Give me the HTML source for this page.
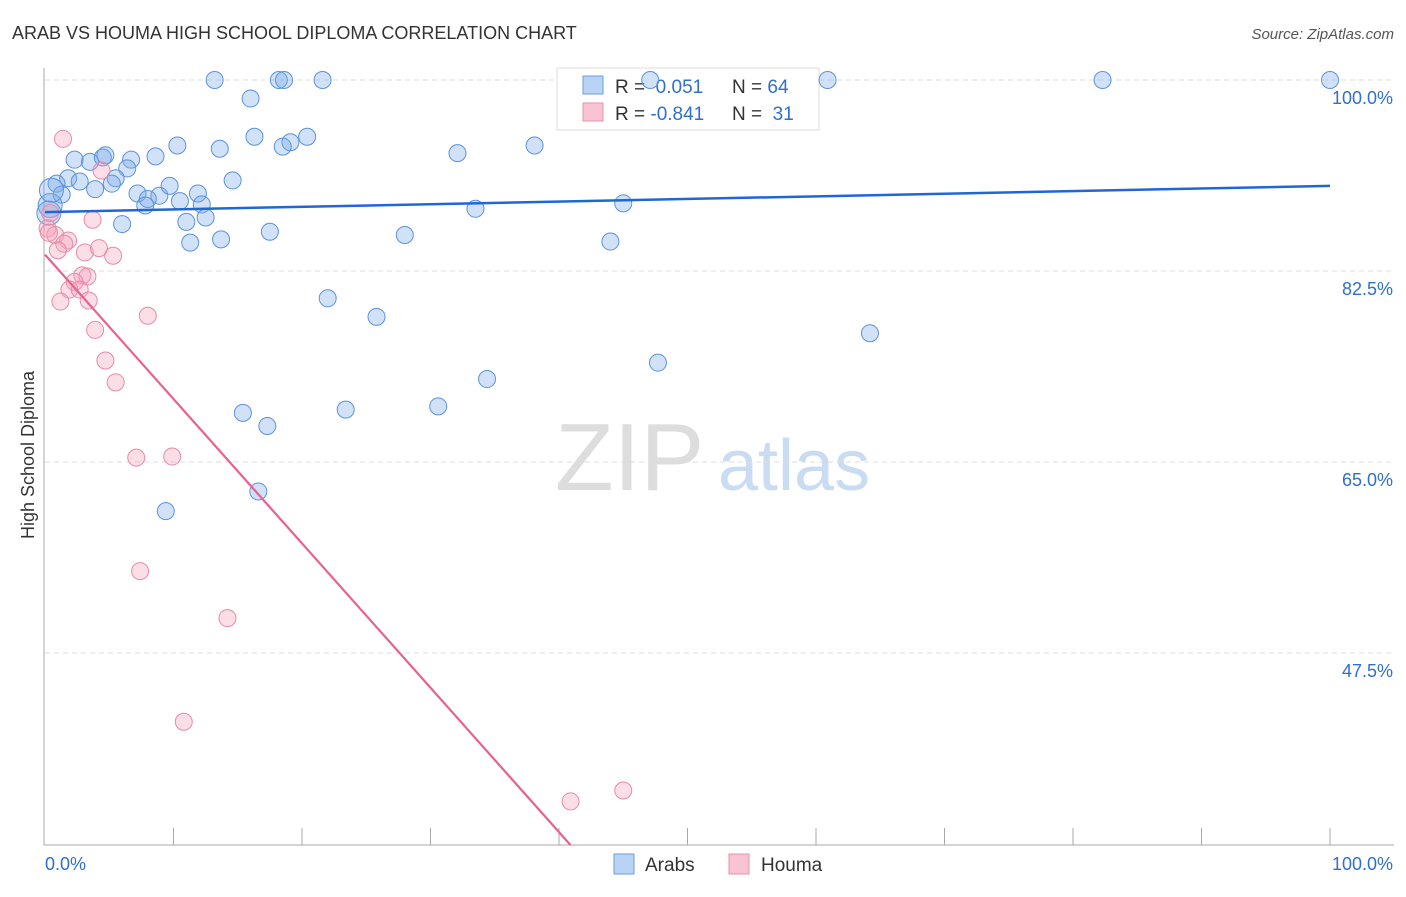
<!DOCTYPE html>
<html><head><meta charset="utf-8"><style>
body{margin:0;background:#fff;font-family:"Liberation Sans",sans-serif;}
svg text{font-family:"Liberation Sans",sans-serif;}
</style></head><body>
<svg id="chart" width="1406" height="892">
<text x="12" y="39" font-size="18" fill="#333">ARAB VS HOUMA HIGH SCHOOL DIPLOMA CORRELATION CHART</text>
<text x="1394" y="39" font-size="15" fill="#555" text-anchor="end" font-style="italic">Source: ZipAtlas.com</text>
<text x="34" y="455" font-size="18" fill="#333" text-anchor="middle" transform="rotate(-90 34 455)">High School Diploma</text>
<g><text x="555" y="490" font-size="96" fill="#ddd" font-family="Liberation Serif,serif">ZIP</text><text x="718" y="490" font-size="72" fill="#c9dcf2">atlas</text></g>
<g id="grid"></g><g id="axes"></g>
<g>
<rect x="557" y="68" width="262" height="62" fill="#fff" stroke="#ddd"/>
<rect x="583" y="76" width="20" height="18" fill="#b8d3f3" stroke="#6a9ee0"/>
<rect x="583" y="103" width="20" height="18" fill="#f8c4d4" stroke="#e890ab"/>
<text x="615" y="93" font-size="19" fill="#333">R = <tspan fill="#2f6fd0">&#160;0.051</tspan><tspan x="732">N = </tspan><tspan fill="#2f6fd0">64</tspan></text>
<text x="615" y="120" font-size="19" fill="#333">R = <tspan fill="#2f6fd0">-0.841</tspan><tspan x="732">N = </tspan><tspan fill="#2f6fd0">&#160;31</tspan></text>
</g>
<g id="marks"></g>
<g>
<rect x="614" y="854" width="20" height="20" fill="#b8d3f3" stroke="#6a9ee0"/>
<text x="645" y="871" font-size="19" fill="#333">Arabs</text>
<rect x="729" y="854" width="20" height="20" fill="#f8c4d4" stroke="#e890ab"/>
<text x="761" y="871" font-size="19" fill="#333">Houma</text>
</g>
</svg>
<script>
const yTicks=[100,82.5,65,47.5];
const yTickLabels=["100.0%","82.5%","65.0%","47.5%"];
const xTickLabels=["0.0%","100.0%"];
const arabX=[13.2,18.2,18.6,21.6,60.9,82.3,100,47.1,16.0,16.3,20.4,19.1,18.5,13.6,10.3,8.6,6.7,2.3,3.5,4.5,4.7,6.4,5.5,1.8,2.7,0.9,1.3,3.9,5.2,7.2,8.9,9.7,11.9,10.5,8.0,7.8,12.2,12.5,14.6,6.0,11.0,11.3,13.7,17.5,28.0,32.1,38.1,33.5,45.0,44.0,22.0,25.8,64.2,47.7,34.4,15.4,23.4,30.6,17.3,16.6,9.4,0.4,0.5,0.3];
const arabY=[100,100,100,100,100,100,100,100,98.3,94.8,94.8,94.3,93.9,93.7,94.0,93.0,92.7,92.7,92.5,92.9,93.1,91.9,91.0,91.0,90.7,90.5,89.5,90.0,90.5,89.6,89.4,90.3,89.6,88.9,89.1,88.5,88.6,87.4,90.8,86.8,87.0,85.1,85.4,86.1,85.8,93.3,94.0,88.2,88.7,85.2,80.0,78.3,76.8,74.1,72.6,69.5,69.8,70.1,68.3,62.3,60.5,88.5,89.9,87.8];
const houmaX=[1.4,4.4,0.4,3.7,0.2,0.8,1.8,1.5,1.0,3.1,4.2,5.3,2.9,3.3,2.3,1.9,2.7,3.4,1.2,8.0,3.9,4.7,5.5,7.1,9.9,7.4,14.2,10.8,40.9,45.0,0.3];
const houmaY=[94.6,91.7,87.8,87.2,86.4,85.8,85.3,85.0,84.4,84.2,84.6,83.9,82.1,82.0,81.5,80.8,80.8,79.8,79.7,78.4,77.1,74.3,72.3,65.4,65.5,55.0,50.7,41.2,33.9,34.9,86.0];
const arabTrend=[[0,87.9],[100,90.3]];
const houmaTrend=[[0,84.0],[40.9,29.9]];
const X=v=>45+v*12.85, Y=v=>80+(100-v)*191/17.5;
const NS="http://www.w3.org/2000/svg";
function mk(t,a,p){const e=document.createElementNS(NS,t);for(const k in a)e.setAttribute(k,a[k]);p.appendChild(e);return e;}
const grid=document.getElementById('grid'),axes=document.getElementById('axes'),marks=document.getElementById('marks');
yTicks.forEach((t,i)=>{
 const l=mk('line',{x1:45,x2:1394,y1:Y(t),y2:Y(t),stroke:'#ddd','stroke-dasharray':'5,4'},grid);
 
 
 const tx=mk('text',{x:1393,y:Y(t)+24,'font-size':18,fill:'#2f6fd0','text-anchor':'end'},axes);tx.textContent=yTickLabels[i];
 
 
});
mk('line',{x1:44,x2:44,y1:68,y2:845,stroke:'#aaa'},axes);
mk('line',{x1:44,x2:1394,y1:845,y2:845,stroke:'#aaa'},axes);
for(let i=1;i<=10;i++){const l=mk('line',{x1:X(i*10),x2:X(i*10),y1:828,y2:845,stroke:'#aaa'},axes);
 
 }
[[0,'start',45],[1,'end',1393]].forEach(([i,a,x])=>{const t=mk('text',{x:x,y:870,'font-size':18,fill:'#2f6fd0','text-anchor':a},axes);t.textContent=xTickLabels[i];
 
 });
arabX.forEach((x,i)=>{const c=mk('circle',{cx:X(x),cy:Y(arabY[i]),r:(i>=61?12:8.5),fill:'rgba(120,170,235,0.35)',stroke:'#5b93dc','stroke-width':1},marks);
 
 });
houmaX.forEach((x,i)=>{const c=mk('circle',{cx:X(x),cy:Y(houmaY[i]),r:8.5,fill:'rgba(245,160,185,0.35)',stroke:'#e88aa8','stroke-width':1},marks);
 
 });
const bl=mk('line',{x1:X(arabTrend[0][0]),y1:Y(arabTrend[0][1]),x2:X(arabTrend[1][0]),y2:Y(arabTrend[1][1]),stroke:'#1f67d2','stroke-width':2.5},marks);


const pl=mk('line',{x1:X(houmaTrend[0][0]),y1:Y(houmaTrend[0][1]),x2:X(houmaTrend[1][0]),y2:Y(houmaTrend[1][1]),stroke:'#e8628f','stroke-width':2.2},marks);


</script>
</body></html>
